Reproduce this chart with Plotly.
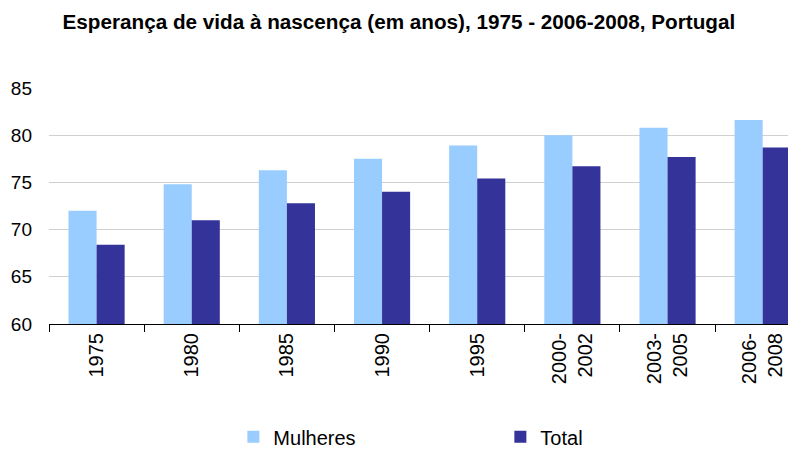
import plotly.graph_objects as go

categories = ["1975", "1980", "1985", "1990", "1995", "2000-<br>2002", "2003-<br>2005", "2006-<br>2008"]
mulheres = [72.0, 74.8, 76.3, 77.5, 78.9, 80.0, 80.8, 81.6]
total = [68.4, 71.0, 72.8, 74.0, 75.4, 76.7, 77.7, 78.7]

FONT = "Liberation Sans, Arial, sans-serif"

fig = go.Figure()
fig.add_trace(go.Bar(x=categories, y=mulheres, name="Mulheres", marker_color="#99CCFF", marker_line_width=0))
fig.add_trace(go.Bar(x=categories, y=total, name="Total", marker_color="#333399", marker_line_width=0))

fig.update_layout(
    width=788, height=442,
    margin=dict(l=41, r=0, t=80, b=126, autoexpand=False),
    paper_bgcolor="white", plot_bgcolor="white",
    barmode="group", bargap=0.41, bargroupgap=0,
    title=dict(text="<b>Esperança de vida à nascença (em anos), 1975 - 2006-2008, Portugal</b>",
               x=0.496, xref="container", xanchor="center", y=0.968, yanchor="middle",
               font=dict(family=FONT, size=20.7, color="black")),
    font=dict(family=FONT, size=18, color="black"),
    showlegend=True,
    legend=dict(orientation="h", xref="container", yref="container",
                x=0.286, xanchor="left", y=0.03, yanchor="middle",
                entrywidth=222, entrywidthmode="pixels",
                font=dict(family=FONT, size=20, color="black"),
                traceorder="normal"),
)
fig.update_xaxes(
    type="category", range=[-0.5, 7.35], automargin=False,
    showline=True, linecolor="black", linewidth=1,
    ticks="outside", tickson="boundaries", ticklen=7, tickcolor="black",
    tickangle=-90, showgrid=False,
    tickfont=dict(family=FONT, size=20, color="black"),
)
fig.update_yaxes(
    range=[60, 85], dtick=5, tick0=60, automargin=False,
    showgrid=True, gridcolor="#d0d0d0", gridwidth=1,
    showline=False, zeroline=False, ticks="", ticklabelstandoff=16,
    tickfont=dict(family=FONT, size=19, color="black"),
)

fig.write_html("out.html")
